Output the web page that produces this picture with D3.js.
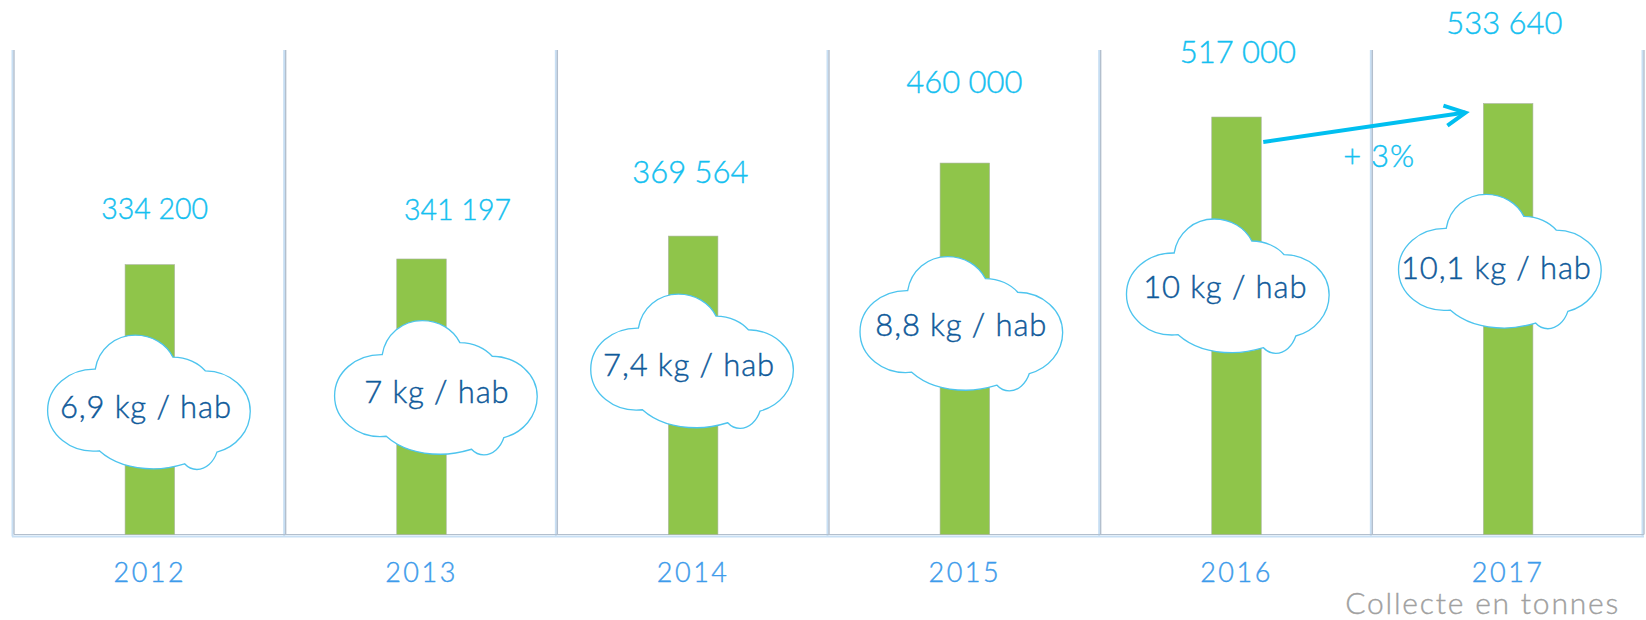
<!DOCTYPE html>
<html>
<script src="https://d3js.org/d3.v7.min.js"></script>
<style>
    body {
        margin: 0;
        background: #fff;
    }

    svg {
        display: block;
        font-family: Lato, sans-serif;
        font-weight: 300;
    }

    .domain {
        display: none;
    }
</style>

<body>
</body>
<script>
    const years = ["2012", "2013", "2014", "2015", "2016", "2017"];
    const tonnes = [334200, 341197, 369564, 460000, 517000, 533640];
    const tonneLabels = ["334 200", "341 197", "369 564", "460 000", "517 000", "533 640"];
    const perHabLabels = ["6,9 kg / hab", "7 kg / hab", "7,4 kg / hab", "8,8 kg / hab", "10 kg / hab", "10,1 kg / hab"];

    const width = 1646,
        height = 620;

    // hand placed annotations, offsets from the top centre of each bar
    const valueOffsets = [[4.8, -57], [36, -50], [-2.8, -65], [-0.5, -82], [1.4, -66], [-3.8, -82]];
    const valueSizes = [28.5, 28.5, 31, 31, 31, 31];
    const cloudOffsets = [[-0.9, 137.5], [14.4, 128.6], [-1.1, 125], [-3.5, 160.5], [-8.7, 169], [-8.3, 157.8]];
    const cloudTextOffsets = [[-3, 3.5], [1, 3.5], [-3, 2.5], [0, 0], [-2.5, 0], [-3.5, 6]];

    // traced at 3x, centred on 0,0
    const cloud = d3.path();
    const cx0 = 446,
        cy0 = 455;
    const curve = (a, b, c, d, e, f) => cloud.bezierCurveTo(a - cx0, b - cy0, c - cx0, d - cy0, e - cx0, f - cy0);
    cloud.moveTo(285 - cx0, 356 - cy0);
    curve(295, 295, 345, 254, 405, 254);
    curve(455, 254, 498, 280, 518, 320);
    curve(560, 320, 595, 338, 615, 361);
    curve(690, 362, 750, 415, 750, 482);
    curve(750, 540, 708, 590, 650, 605);
    curve(640, 635, 617, 657, 590, 657);
    curve(575, 657, 562, 650, 553, 640);
    curve(520, 650, 490, 655, 460, 655);
    curve(390, 655, 335, 635, 297, 601);
    curve(210, 610, 142, 550, 142, 480);
    curve(142, 410, 205, 355, 285, 356);
    cloud.closePath();

    const svg = d3.select("body").append("svg").attr("width", width).attr("height", height);

    const x = d3.scaleBand()
        .domain(years)
        .range([14, 1644])
        .paddingInner(0)
        .paddingOuter(0);
    const y = d3.scaleLinear()
        .domain([0, 600000])
        .range([534.5, 50]);
    const barWidth = 49.5;
    const barCenter = i => x(years[i]) + x.bandwidth() / 2;

    // frame: pale shadow first, grey line on top
    const edges = years.map(d => x(d)).concat([x.range()[1]]);
    svg.selectAll(".shadow")
        .data(edges)
        .join("line")
        .attr("class", "shadow")
        .attr("stroke", "#c8dff4")
        .attr("stroke-width", 2)
        .attr("x1", d => d - 1.5)
        .attr("x2", d => d - 1.5)
        .attr("y1", y.range()[1])
        .attr("y2", y.range()[0] + 2);
    svg.append("line")
        .attr("stroke", "#c8dff4")
        .attr("stroke-width", 2)
        .attr("x1", 12)
        .attr("x2", x.range()[1])
        .attr("y1", y.range()[0] + 2)
        .attr("y2", y.range()[0] + 2);
    svg.selectAll(".divider")
        .data(edges)
        .join("line")
        .attr("class", "divider")
        .attr("stroke", "#b3bfcd")
        .attr("stroke-width", 1.4)
        .attr("x1", d => d)
        .attr("x2", d => d)
        .attr("y1", y.range()[1])
        .attr("y2", y.range()[0]);
    svg.append("line")
        .attr("stroke", "#b3bfcd")
        .attr("stroke-width", 1.2)
        .attr("x1", x.range()[0])
        .attr("x2", x.range()[1])
        .attr("y1", y.range()[0])
        .attr("y2", y.range()[0]);

    svg.selectAll(".bar")
        .data(tonnes)
        .join("rect")
        .attr("class", "bar")
        .attr("fill", "#8fc54a")
        .attr("stroke", "#a9b3a0")
        .attr("stroke-width", 0.6)
        .attr("x", (d, i) => barCenter(i) - barWidth / 2)
        .attr("width", barWidth)
        .attr("y", d => y(d))
        .attr("height", d => y(0) - y(d));

    const xAxis = svg.append("g")
        .attr("transform", `translate(0,${y(0)})`)
        .call(d3.axisBottom(x).tickSize(0).tickPadding(28));
    xAxis.selectAll("text")
        .attr("font-family", "Lato, sans-serif")
        .attr("font-size", 27)
        .attr("letter-spacing", 2.5)
        .attr("fill", "#3d9beb")
        .attr("stroke", "#3d9beb")
        .attr("stroke-width", 0.4);

    svg.selectAll(".value")
        .data(tonneLabels)
        .join("text")
        .attr("class", "value")
        .attr("font-size", (d, i) => valueSizes[i])
        .attr("fill", "#14bff0")
        .attr("stroke", "#14bff0")
        .attr("stroke-width", 0.4)
        .attr("text-anchor", "middle")
        .attr("dominant-baseline", "central")
        .attr("x", (d, i) => barCenter(i) + valueOffsets[i][0])
        .attr("y", (d, i) => y(tonnes[i]) + valueOffsets[i][1])
        .text(d => d);

    svg.selectAll(".cloud")
        .data(perHabLabels)
        .join("path")
        .attr("class", "cloud")
        .attr("d", cloud.toString())
        .attr("fill", "#fff")
        .attr("stroke", "#4dc4ee")
        .attr("stroke-width", 4)
        .attr("transform", (d, i) => `translate(${barCenter(i) + cloudOffsets[i][0]},${y(tonnes[i]) + cloudOffsets[i][1]}) scale(0.3333)`);

    svg.selectAll(".perhab")
        .data(perHabLabels)
        .join("text")
        .attr("class", "perhab")
        .attr("font-size", 31)
        .attr("letter-spacing", 0.9)
        .attr("fill", "#0f5a9a")
        .attr("stroke", "#0f5a9a")
        .attr("stroke-width", 0.45)
        .attr("text-anchor", "middle")
        .attr("dominant-baseline", "central")
        .attr("x", (d, i) => barCenter(i) + cloudOffsets[i][0] + cloudTextOffsets[i][0])
        .attr("y", (d, i) => y(tonnes[i]) + cloudOffsets[i][1] + cloudTextOffsets[i][1])
        .text(d => d);

    // growth arrow from the 2016 bar towards the 2017 bar
    const arrow = svg.append("g")
        .attr("fill", "none")
        .attr("stroke", "#00bff0")
        .attr("stroke-width", 4);
    const ax1 = barCenter(4) + barWidth / 2 + 2,
        ay1 = y(tonnes[4]) + 25,
        ax2 = barCenter(5) - barWidth / 2 - 18,
        ay2 = y(tonnes[5]) + 9;
    arrow.append("line").attr("x1", ax1).attr("y1", ay1).attr("x2", ax2).attr("y2", ay2);
    arrow.append("path")
        .attr("d", `M${ax2 - 22},${ay2 - 7}L${ax2},${ay2}L${ax2 - 18},${ay2 + 13}`);

    svg.append("text")
        .attr("font-size", 31)
        .attr("letter-spacing", 0.8)
        .attr("fill", "#14bff0")
        .attr("stroke", "#14bff0")
        .attr("stroke-width", 0.4)
        .attr("text-anchor", "middle")
        .attr("dominant-baseline", "central")
        .attr("x", 1379)
        .attr("y", 155)
        .text("+ 3%");

    svg.append("text")
        .attr("font-size", 30)
        .attr("letter-spacing", 1.8)
        .attr("fill", "#a0a0a0")
        .attr("stroke", "#a0a0a0")
        .attr("stroke-width", 0.35)
        .attr("text-anchor", "end")
        .attr("x", 1620)
        .attr("y", 614)
        .text("Collecte en tonnes");
</script>

</html>
